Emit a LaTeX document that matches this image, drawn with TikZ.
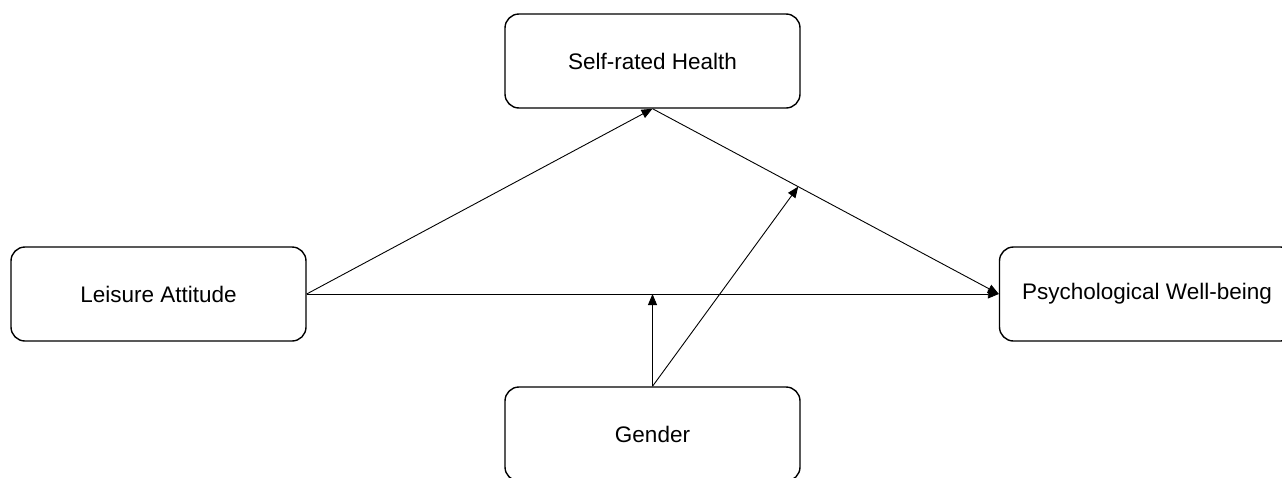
\documentclass[tikz,border=0pt]{standalone}
\usepackage{fontspec}
\setmainfont{Liberation Sans}
\usetikzlibrary{arrows.meta,calc}
\begin{document}
\begin{tikzpicture}[x=1pt,y=-1pt,
  box/.style={draw,line width=1.4pt,rounded corners=14pt,minimum width=295pt,minimum height=94pt,inner sep=0pt,font=\fontsize{22.5}{27}\selectfont},
  link/.style={line width=0.9pt,-{Triangle[length=11pt,width=9pt]}}]
\useasboundingbox (0,0) rectangle (1282,477);
\clip (0,0) rectangle (1282,477);
\node[box] (sh) at (652.5,61) {Self-rated Health};
\node[box] (la) at (158.5,294) {Leisure Attitude};
\node[box] (pw) at (1147,294) {Psychological Well-being};
\node[box] (g) at (652.5,434) {Gender};
\coordinate (m1) at (g.north |- la.east);
\coordinate (m2) at ($(sh.south)!0.4207!(pw.west)$);
\draw[link] (la.east) -- (sh.south);
\draw[link] (sh.south) -- (pw.west);
\draw[link] (la.east) -- (pw.west);
\draw[link] (g.north) -- (m1);
\draw[link] (g.north) -- (m2);
\end{tikzpicture}
\end{document}
